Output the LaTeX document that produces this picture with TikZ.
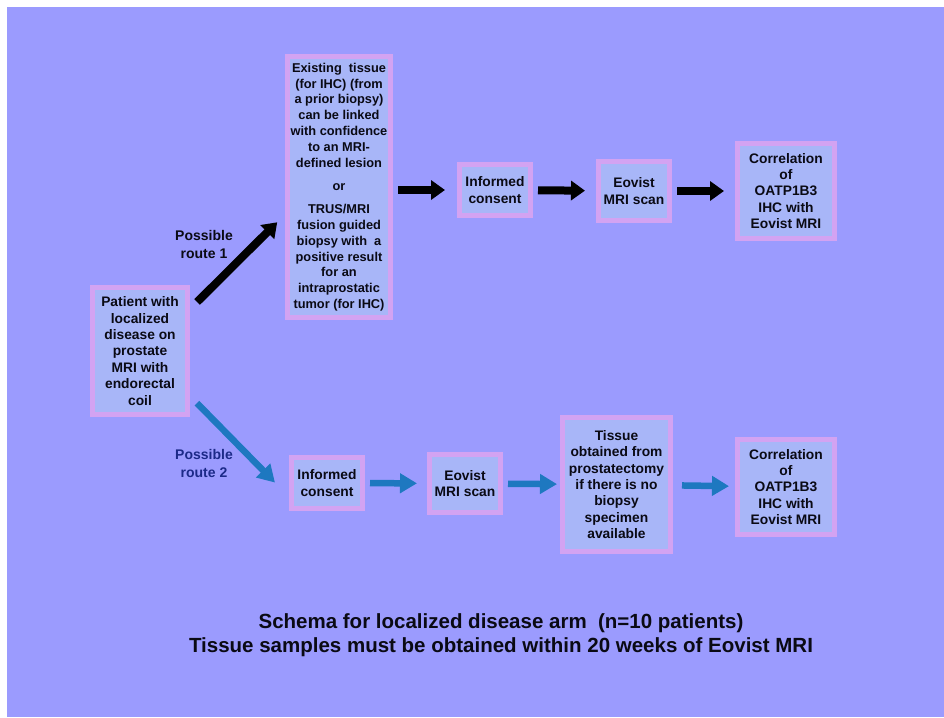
\documentclass[tikz,border=0pt]{standalone}
\usepackage{fontspec}
\setmainfont{Liberation Sans}
\usepackage{tikz}
\usetikzlibrary{arrows.meta}
\definecolor{slide}{HTML}{9B9BFE}
\definecolor{boxfill}{HTML}{A8B6F8}
\definecolor{boxedge}{HTML}{D3A3F2}
\definecolor{bluearrow}{HTML}{1E78C0}
\definecolor{navy}{HTML}{1C2A88}
\definecolor{ink}{HTML}{0A0A14}

\begin{document}
\begin{tikzpicture}[x=1pt,y=-1pt,
    box/.style={draw=boxedge,line width=5pt,fill=boxfill,align=center,text=ink,inner sep=1pt,
        font=\bfseries\fontsize{13.8}{16.4}\selectfont},
    routelabel/.style={align=center,font=\bfseries\fontsize{14}{18}\selectfont},
    blk/.style={-{Triangle[length=14pt,width=19pt]},line width=8pt,black,shorten <=5pt,shorten >=11pt},
    blu/.style={-{Triangle[length=17pt,width=19pt]},line width=6.5pt,bluearrow,shorten <=5pt,shorten >=9pt}]
    \fill[white] (0,0) rectangle (944,717);
    \fill[slide] (7,7) rectangle (944,717);
    \node[box,minimum width=95pt,minimum height=127pt] (patient) at (140,351)
        {Patient with\\localized\\disease on\\prostate\\MRI with\\endorectal\\coil};
    \node[box,minimum width=103pt,minimum height=261pt,font=\bfseries\fontsize{12.8}{15.8}\selectfont] (tissue) at (339,187)
        {Existing\ \ tissue\\(for IHC) (from\\a prior biopsy)\\can be linked\\with confidence\\to an MRI-\\defined lesion\\[8pt]
         or\\[7pt]TRUS/MRI\\fusion guided\\biopsy with\ \ a\\positive result\\for an\\intraprostatic\\tumor (for IHC)};
    \node[box,minimum width=71pt,minimum height=51pt] (consent1) at (495,190) {Informed\\consent};
    \node[box,minimum width=71pt,minimum height=59pt] (eovist1) at (634,191) {Eovist\\MRI scan};
    \node[box,minimum width=97pt,minimum height=95pt] (corr1) at (786,191)
        {Correlation\\of\\OATP1B3\\IHC with\\Eovist MRI};
    \node[box,minimum width=71pt,minimum height=51pt] (consent2) at (327,483) {Informed\\consent};
    \node[box,minimum width=71pt,minimum height=58pt] (eovist2) at (465,483.5) {Eovist\\MRI scan};
    \node[box,minimum width=108pt,minimum height=134pt] (tissue2) at (616.5,484.5)
        {Tissue\\obtained from\\prostatectomy\\if there is no\\biopsy\\specimen\\available};
    \node[box,minimum width=97pt,minimum height=95pt] (corr2) at (786,487)
        {Correlation\\of\\OATP1B3\\IHC with\\Eovist MRI};
    % the two routes
    \draw[blk,shorten <=10pt,shorten >=11pt] (patient.40) -- (tissue.207);
    \node[routelabel,text=ink] (route1) at (204,244) {Possible\\route 1};
    \draw[blu,shorten <=10pt,shorten >=20pt] (patient.-42) -- (consent2.200);
    \node[routelabel,text=navy] (route2) at (204,463) {Possible\\route 2};
    % route 1
    \draw[blk,shorten >=12pt] (tissue.east |- consent1) -- (consent1);
    \draw[blk] (consent1) -- (eovist1);
    \draw[blk] (eovist1) -- (corr1);
    % route 2
    \draw[blu,shorten >=10pt] (consent2) -- (eovist2);
    \draw[blu,shorten >=3pt] (eovist2) -- (tissue2);
    \draw[blu,shorten <=9pt,shorten >=6pt] (tissue2) -- (corr2);
    \node[align=center,text=ink,font=\bfseries\fontsize{20.5}{24}\selectfont] (caption) at (501,635)
        {Schema for localized disease arm\ \ (n=10 patients)\\Tissue samples must be obtained within 20 weeks of Eovist MRI};
\end{tikzpicture}
\end{document}
